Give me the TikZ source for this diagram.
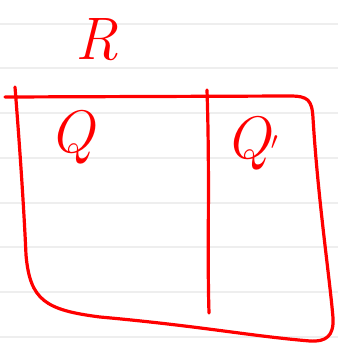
\documentclass[tikz,border=0pt]{standalone}
\usepackage{fontspec}
\setmainfont{Latin Modern Roman}
\definecolor{ink}{RGB}{255,0,0}
\definecolor{rule}{RGB}{238,238,238}
\tikzset{
  pen/.style={draw=ink, line width=3.2pt, line cap=round, line join=round},
  paperline/.style={draw=rule, line width=1.5pt},
  label/.style={text=ink, inner sep=0pt, font=\fontsize{60}{60}\selectfont\itshape}
}
\begin{document}
\begin{tikzpicture}[x=1pt,y=-1pt]
\useasboundingbox (0,0) rectangle (338,343);
\fill[white] (0,0) rectangle (338,343);
% lined paper
\foreach \yy in {24,68,113,158,203,247,292,337}
  \draw[paperline] (0,\yy) -- (338,\yy);
% outline: left side, bottom, right side, top
\coordinate (lt) at (15,87);
\coordinate (tl) at (5,97);
\draw[pen] (lt) .. controls (20,150) and (24,210) .. (26,255)
  .. controls (30,300) and (45,310) .. (100,317)
  .. controls (200,326) and (250,336) .. (310,341)
  .. controls (326,342) and (334,336) .. (333,318)
  .. controls (330,280) and (318,200) .. (313,118)
  .. controls (312,100) and (308,96) .. (290,96)
  -- (tl);
% middle divider
\coordinate (mt) at (207,90);
\coordinate (mb) at (209,313);
\draw[pen] (mt) .. controls (210,180) and (207,250) .. (mb);
% labels
\node[label] (R) at (97,40) {R};
\node[label] (Q) at (72,137) {Q};
\node[label] (Qp) at (252,143) {Q$'$};
\end{tikzpicture}
\end{document}
